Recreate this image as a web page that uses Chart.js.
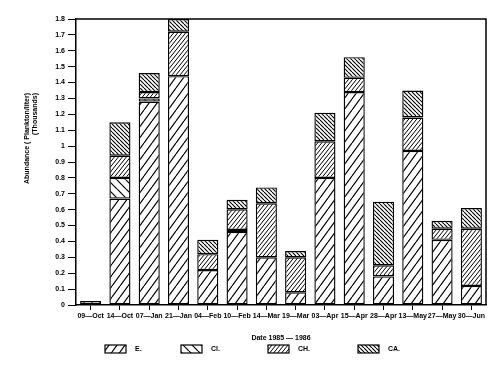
<!DOCTYPE html>
<html lang="en">
<head>
  <meta charset="UTF-8" />
  <title>Plankton abundance 1985 - 1986</title>
  <script src="https://cdn.jsdelivr.net/npm/chart.js"></script>
  <style>
    html, body { margin: 0; padding: 0; background: #fff; }
    .wrap { width: 500px; height: 365px; position: relative; }
  </style>
</head>
<body>
  <div class="wrap"><canvas id="chart"></canvas></div>

  <script>
    // dates (x labels)
    const dates = [
      "09—Oct", "14—Oct", "07—Jan", "21—Jan", "04—Feb", "10—Feb", "14—Mar",
      "19—Mar", "03—Apr", "15—Apr", "28—Apr", "13—May", "27—May", "30—Jun"
    ];
    const seriesNames = ["E.", "Cl.", "CH.", "CA."];

    // thousands of plankton per liter
    const valE  = [0.025, 0.67, 1.28, 1.44, 0.22, 0.46, 0.30, 0.08, 0.80, 1.34, 0.18, 0.97, 0.41, 0.12];
    const valCl = [null, 0.13, 0.02, null, null, 0.012, null, null, null, null, null, null, null, null];
    const valCH = [null, 0.14, 0.04, 0.28, 0.10, 0.13, 0.34, 0.22, 0.23, 0.09, 0.07, 0.21, 0.07, 0.36];
    const valCA = [null, 0.21, 0.12, 0.08, 0.09, 0.06, 0.10, 0.04, 0.18, 0.13, 0.40, 0.17, 0.05, 0.13];

    const yMax = 1.8;
    const yStep = 0.1;

    // hatch patterns, black on white
    function hatch(w, h, dir, lw) {
      const c = document.createElement("canvas");
      c.width = w; c.height = h;
      const g = c.getContext("2d");
      g.fillStyle = "#fff";
      g.fillRect(0, 0, w, h);
      g.strokeStyle = "#000";
      g.lineWidth = lw;
      g.beginPath();
      for (let k = -1; k <= 1; k++) {
        if (dir > 0) { g.moveTo(k * w, h); g.lineTo(k * w + w, 0); }
        else { g.moveTo(k * w, 0); g.lineTo(k * w + w, h); }
      }
      g.stroke();
      return g.createPattern(c, "repeat");
    }

    const patE  = hatch(8, 11, 1, 1.2);
    const patCl = hatch(9, 9, -1, 1.2);
    const patCH = hatch(4, 5, 1, 1);
    const patCA = hatch(4, 4, -1, 1.1);
    const patterns = [patE, patCl, patCH, patCA];

    const FONT = "'Liberation Sans', Arial, sans-serif";

    // frame on top and right + y title + legend
    const extras = {
      id: "extras",
      afterDraw(chart) {
        const ctx = chart.ctx;
        const a = chart.chartArea;
        ctx.save();
        ctx.strokeStyle = "#000";
        ctx.lineWidth = 1.5;
        ctx.beginPath();
        ctx.moveTo(a.left, a.top);
        ctx.lineTo(a.right, a.top);
        ctx.lineTo(a.right, a.bottom);
        ctx.stroke();

        // y axis title, two lines ending at same height
        ctx.fillStyle = "#000";
        ctx.font = "bold 7px " + FONT;
        ctx.textAlign = "right";
        ctx.textBaseline = "middle";
        ctx.translate(27, 93);
        ctx.rotate(-Math.PI / 2);
        ctx.fillText("Abundance ( Plankton/liter)", 0, 0);
        ctx.fillText("(Thousands)", 0, 8);
        ctx.restore();

        // legend
        ctx.save();
        const boxX = [105, 181, 268, 358];
        ctx.font = "bold 7px " + FONT;
        ctx.textBaseline = "middle";
        seriesNames.forEach((name, i) => {
          ctx.fillStyle = patterns[i];
          ctx.fillRect(boxX[i], 345, 21, 8);
          ctx.strokeStyle = "#000";
          ctx.lineWidth = 1.2;
          ctx.strokeRect(boxX[i], 345, 21, 8);
          ctx.fillStyle = "#000";
          ctx.fillText(name, boxX[i] + 30, 349.5);
        });
        ctx.restore();
      }
    };

    const mkSet = (i, data) => ({
      label: seriesNames[i],
      data: data,
      backgroundColor: patterns[i],
      borderColor: "#000",
      borderWidth: 1.4,
      borderSkipped: false,
      barPercentage: 0.72,
      categoryPercentage: 1
    });

    new Chart(document.getElementById("chart"), {
      type: "bar",
      data: {
        labels: dates,
        datasets: [mkSet(0, valE), mkSet(1, valCl), mkSet(2, valCH), mkSet(3, valCA)]
      },
      options: {
        responsive: true,
        maintainAspectRatio: false,
        animation: false,
        layout: { padding: { left: 0, top: 19, right: 14, bottom: 23 } },
        plugins: {
          legend: { display: false },
          tooltip: { enabled: false }
        },
        scales: {
          x: {
            stacked: true,
            afterFit: s => { s.height = 37; },
            border: { color: "#000", width: 1.5 },
            grid: { drawOnChartArea: false, color: "#000", tickLength: 5, offset: false },
            ticks: {
              color: "#000",
              font: { family: FONT, size: 7, weight: "bold" },
              padding: 2,
              maxRotation: 0,
              autoSkip: false
            },
            title: {
              display: true,
              text: "Date 1985 — 1986",
              color: "#000",
              font: { family: FONT, size: 7, weight: "bold" },
              padding: 0
            }
          },
          y: {
            stacked: true,
            min: 0,
            max: yMax,
            afterFit: s => { s.width = 76; },
            border: { color: "#000", width: 1.5 },
            grid: { drawOnChartArea: false, color: "#000", tickLength: 8 },
            ticks: {
              stepSize: yStep,
              color: "#000",
              padding: 3,
              font: { family: FONT, size: 7, weight: "bold" },
              callback: v => String(Math.round(v * 10) / 10)
            }
          }
        }
      },
      plugins: [extras]
    });
  </script>
</body>
</html>
